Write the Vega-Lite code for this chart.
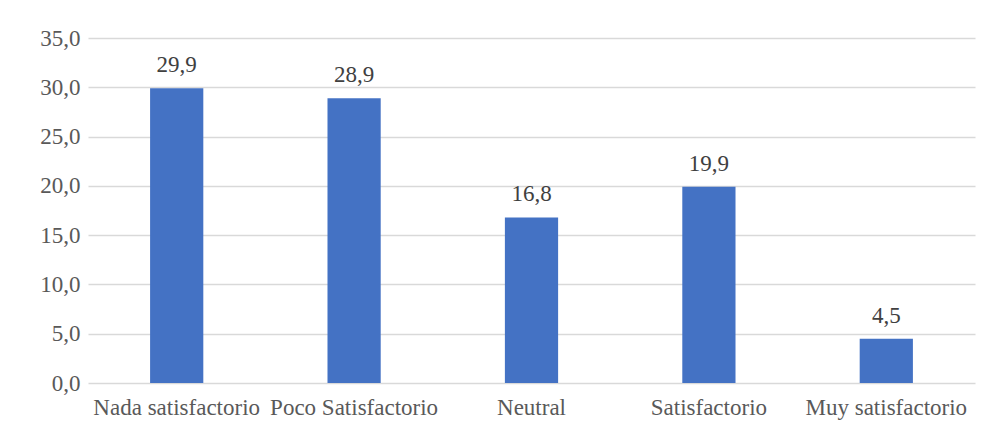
{
  "$schema": "https://vega.github.io/schema/vega-lite/v6.json",
  "width": 887,
  "height": 345,
  "autosize": "none",
  "padding": {"left": 88, "top": 38, "right": 26, "bottom": 51},
  "background": "white",
  "data": {
    "values": [
      {"nivel": "Nada satisfactorio", "porcentaje": 29.9},
      {"nivel": "Poco Satisfactorio", "porcentaje": 28.9},
      {"nivel": "Neutral", "porcentaje": 16.8},
      {"nivel": "Satisfactorio", "porcentaje": 19.9},
      {"nivel": "Muy satisfactorio", "porcentaje": 4.5}
    ]
  },
  "encoding": {
    "x": {
      "field": "nivel",
      "type": "nominal",
      "sort": null,
      "scale": {"paddingInner": 0.7, "paddingOuter": 0.35},
      "axis": {
        "title": null,
        "labelAngle": 0,
        "domain": false,
        "ticks": false,
        "labelPadding": 13,
        "labelLimit": 0,
        "labelFont": "Liberation Serif",
        "labelFontSize": 23,
        "labelColor": "#595959"
      }
    },
    "y": {
      "field": "porcentaje",
      "type": "quantitative",
      "scale": {"domain": [0, 35], "nice": false},
      "axis": {
        "title": null,
        "values": [0, 5, 10, 15, 20, 25, 30, 35],
        "format": ".1f",
        "domain": false,
        "ticks": false,
        "labelPadding": 8,
        "labelFont": "Liberation Serif",
        "labelFontSize": 23,
        "labelColor": "#595959",
        "gridColor": "#d9d9d9",
        "gridWidth": 1.3
      }
    }
  },
  "layer": [
    {"mark": {"type": "bar", "color": "#4472C4"}},
    {
      "mark": {
        "type": "text",
        "baseline": "alphabetic",
        "dy": -16,
        "font": "Liberation Serif",
        "fontSize": 23,
        "color": "#404040"
      },
      "encoding": {
        "text": {"field": "porcentaje", "type": "quantitative", "format": ".1f"}
      }
    }
  ],
  "config": {
    "view": {"stroke": null},
    "locale": {
      "number": {"decimal": ",", "thousands": ".", "grouping": [3], "currency": ["", " €"]}
    }
  }
}
